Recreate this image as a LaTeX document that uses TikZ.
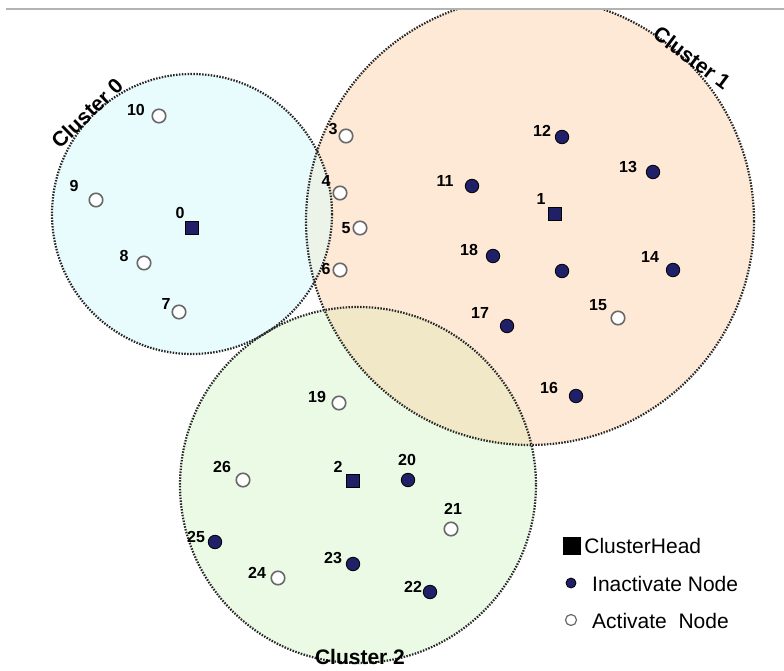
\documentclass[tikz,border=0pt]{standalone}
\usepackage{fontspec}
\setmainfont{Liberation Sans}
\usepackage{tikz}
\usetikzlibrary{positioning,calc,shapes}

\definecolor{navy}{RGB}{32,32,104}
\definecolor{ringgray}{RGB}{105,105,105}
\definecolor{cyanfill}{RGB}{232,251,253}
\definecolor{peachfill}{RGB}{253,233,213}
\definecolor{greenfill}{RGB}{234,250,229}
\definecolor{mixa}{RGB}{236,243,232}
\definecolor{mixb}{RGB}{241,232,200}

\begin{document}
\begin{tikzpicture}[x=1pt, y=-1pt,
  zone/.style={draw=black!85, line width=2.2pt, dash pattern=on 1.5pt off 1.4pt},
  head/.style={rectangle, draw=black, line width=1pt, fill=navy, minimum size=13pt, inner sep=0pt},
  sleep/.style={circle, draw=black, line width=0.8pt, fill=navy, minimum size=13.5pt, inner sep=0pt},
  awake/.style={circle, draw=ringgray, line width=1.6pt, fill=white, minimum size=13.5pt, inner sep=0pt},
  lbl/.style={font=\fontsize{16}{16}\selectfont\bfseries, inner sep=0pt},
  ctitle/.style={font=\fontsize{21}{21}\selectfont\bfseries, inner sep=1pt},
  legtext/.style={font=\fontsize{21}{21}\selectfont, anchor=west, inner sep=0pt}]
  \useasboundingbox (0,0) rectangle (784,671);
  \fill[white] (0,0) rectangle (784,671);

  % cluster areas
  \begin{scope}
    \clip (0,10) rectangle (784,671);
    \fill[cyanfill] (192,214) circle (140);
    \fill[peachfill] (530,221) circle (224);
    \fill[greenfill] (358,485) circle (178);
    \begin{scope}
      \clip (530,221) circle (224);
      \fill[mixa] (192,214) circle (140);
      \fill[mixb] (358,485) circle (178);
    \end{scope}
    \draw[zone] (192,214) circle (140);
    \draw[zone] (530,221) circle (224);
    \draw[zone] (358,485) circle (178);
  \end{scope}
  \draw[black!30, line width=2pt] (6,9.5) -- (784,9.5);

  % cluster heads
  \foreach \n/\x/\y/\lx/\ly in {0/192/228/180/213, 1/555/214/541/199, 2/353/481/338/467}
  {
    \node[head] (n\n) at (\x,\y) {};
    \node[lbl] (l\n) at (\lx,\ly) {\n};
  }

  % inactivate nodes
  \foreach \n/\x/\y/\lx/\ly in {11/472/186/445/181, 12/562/137/542/131, 13/653/172/628/167,
    14/673/270/650/257, 16/576/396/549/388, 17/507/326/480/313, 18/493/256/469/250,
    20/408/480/407/460, 22/430/592/413/587, 23/353/564/333/558, 25/215/542/196/537}
  {
    \node[sleep] (n\n) at (\x,\y) {};
    \node[lbl] (l\n) at (\lx,\ly) {\n};
  }
  \node[sleep] (nx) at (562,271) {};

  % activate nodes
  \foreach \n/\x/\y/\lx/\ly in {3/346/136/333/129, 4/340/193/326/181, 5/360/228/346/228,
    6/340/270/326/269, 7/179/312/166/304, 8/144/263/124/256, 9/96/200/74/186,
    10/159/116/136/110, 15/618/318/598/305, 19/339/403/317/397, 21/451/529/453/509,
    24/278/578/257/573, 26/243/480/222/467}
  {
    \node[awake] (n\n) at (\x,\y) {};
    \node[lbl] (l\n) at (\lx,\ly) {\n};
  }

  % cluster names
  \node[ctitle, rotate=44] (c0) at (87,113) {Cluster 0};
  \node[ctitle, rotate=-37] (c1) at (692,58) {Cluster 1};
  \node[ctitle] (c2) at (360,657) {Cluster 2};

  % legend
  \node[rectangle, fill=black, minimum size=18pt, inner sep=0pt] (kh) at (572,546) {};
  \node[legtext, right=3pt of kh] (th) {ClusterHead};
  \node[sleep, minimum size=10pt] (ks) at (571,583) {};
  \node[legtext] (ts) at (592,584) {Inactivate Node};
  \node[awake, minimum size=11pt, line width=1.2pt] (ka) at (571,620) {};
  \node[legtext] (ta) at (592,621) {Activate\ \ Node};
\end{tikzpicture}
\end{document}
